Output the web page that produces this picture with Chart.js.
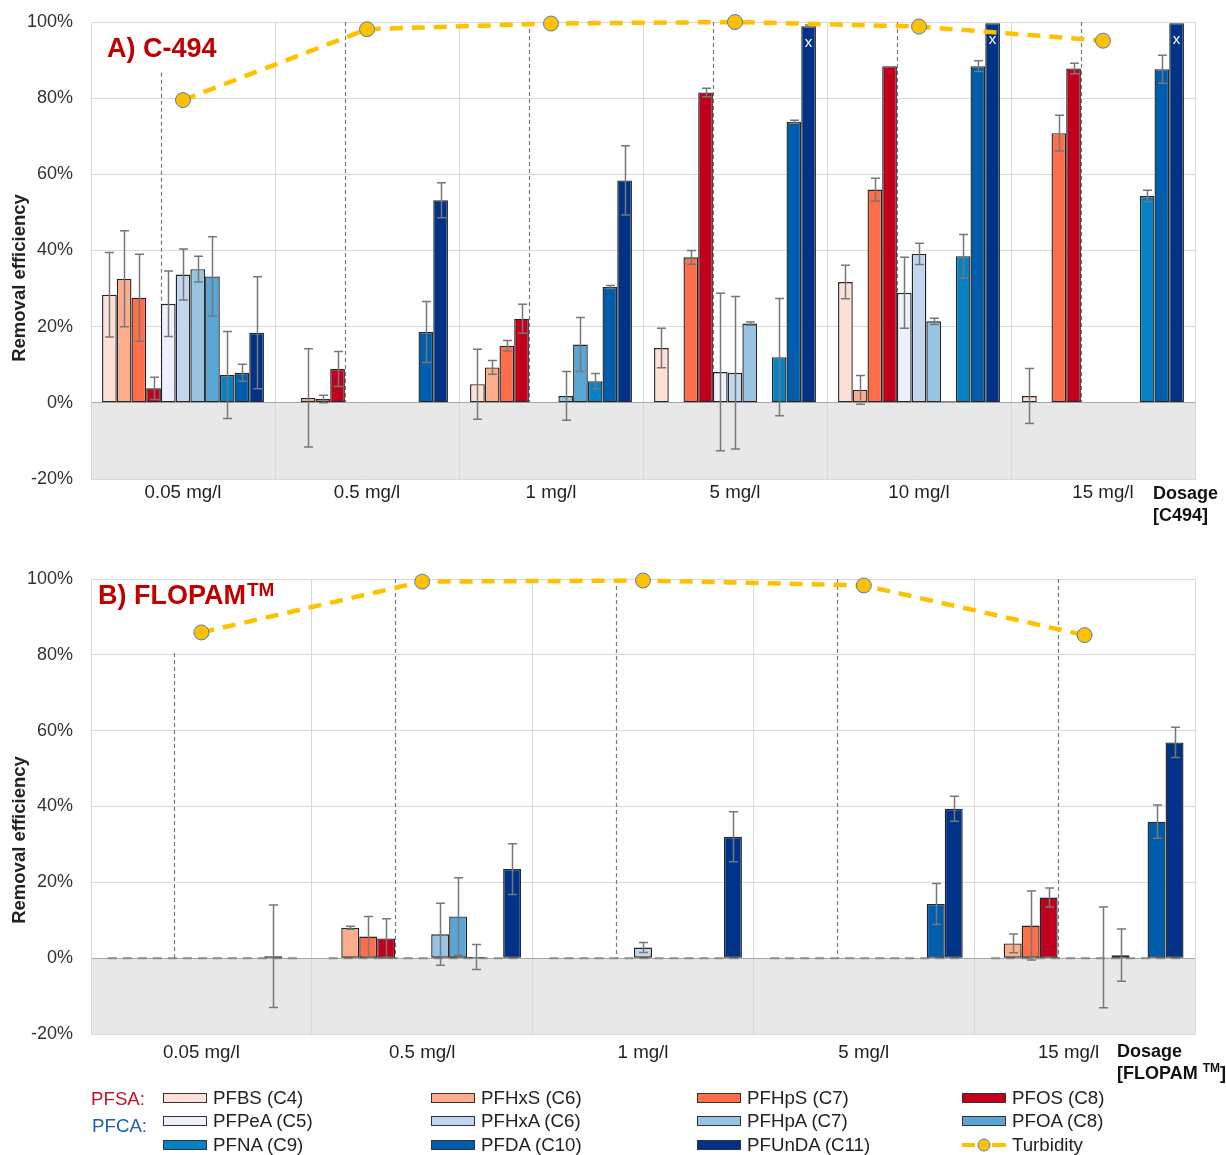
<!DOCTYPE html>
<html><head><meta charset="utf-8">
<script src="https://cdn.jsdelivr.net/npm/chart.js@4.4.1/dist/chart.umd.min.js"></script>
<style>
html,body{margin:0;padding:0;background:#fff;}
body{width:1226px;height:1155px;position:relative;overflow:hidden;font-family:"Liberation Sans",Arial,sans-serif;}
#wrapA{position:absolute;left:0;top:0;width:1226px;height:530px;}
#wrapB{position:absolute;left:0;top:555px;width:1226px;height:535px;}
.lg{position:absolute;font-size:18.7px;color:#222;line-height:20px;white-space:nowrap;}
.sw{position:absolute;width:42px;height:8px;border:1.5px solid #333;}
</style></head><body>
<div id="wrapA"><canvas id="cA"></canvas></div>
<div id="wrapB"><canvas id="cB"></canvas></div>
<div id="legend"></div>
<script>
// ---------- categories ----------
const catsA = ['0.05 mg/l', '0.5 mg/l', '1 mg/l', '5 mg/l', '10 mg/l', '15 mg/l'];
const catsB = ['0.05 mg/l', '0.5 mg/l', '1 mg/l', '5 mg/l', '15 mg/l'];
const seriesNames = ['PFBS (C4)', 'PFHxS (C6)', 'PFHpS (C7)', 'PFOS (C8)', 'PFPeA (C5)', 'PFHxA (C6)', 'PFHpA (C7)', 'PFOA (C8)', 'PFNA (C9)', 'PFDA (C10)', 'PFUnDA (C11)'];
const yTicks = [-20, 0, 20, 40, 60, 80, 100];

// ---------- Panel A: C-494 (removal efficiency %, and error) ----------
const A_PFBS   = [28.4, null, 4.9, 14.4, 31.7, 1.8];
const A_PFHxS  = [32.6, 1.3, 9.3, null, 3.4, null];
const A_PFHpS  = [27.6, 1.0, 15.0, 38.2, 56.0, 70.8];
const A_PFOS   = [3.8, 8.9, 22.1, 81.5, 88.4, 87.8];
const A_PFPeA  = [26.0, null, null, 8.1, 28.9, null];
const A_PFHxA  = [33.7, null, null, 7.9, 39.1, null];
const A_PFHpA  = [35.1, null, 1.8, 20.8, 21.4, null];
const A_PFOA   = [33.2, null, 15.3, null, 0.4, null];
const A_PFNA   = [7.3, null, 5.7, 12.0, 38.5, 54.3];
const A_PFDA   = [7.9, 18.6, 30.4, 73.8, 88.4, 87.6];
const A_PFUnDA = [18.4, 53.2, 58.4, 98.9, 99.7, 99.7];

const A_PFBS_err   = [11.1, null, 9.2, 5.2, 4.4, 7.2];
const A_PFHxS_err  = [12.6, 12.9, 1.8, null, 3.8, null];
const A_PFHpS_err  = [11.4, 1.0, 1.4, 1.8, 3.0, 4.7];
const A_PFOS_err   = [2.9, 4.6, 3.8, 1.1, 0, 1.4];
const A_PFPeA_err  = [8.6, null, null, 20.7, 9.3, null];
const A_PFHxA_err  = [6.7, null, null, 20.0, 2.8, null];
const A_PFHpA_err  = [3.4, null, 6.4, 0.4, 0.8, null];
const A_PFOA_err   = [10.4, null, 7.1, null, 0, null];
const A_PFNA_err   = [11.4, null, 2.0, 15.4, 5.7, 1.5];
const A_PFDA_err   = [2.2, 8.0, 0.4, 0.4, 1.4, 3.7];
const A_PFUnDA_err = [14.7, 4.6, 9.1, 0.3, 0, 0];
const A_PFUnDA_flag = [null, null, null, 'x', 'x', 'x'];

const A_turbidity = [79.5, 98.1, 99.6, 100, 98.8, 95.1];
const A_dropTop   = [86.7, 100, 100, 100, 100, 100];

// ---------- Panel B: FLOPAM ----------
const B_PFBS   = [null, null, null, null, null];
const B_PFHxS  = [null, 8.0, null, null, 3.9];
const B_PFHpS  = [null, 5.7, null, null, 8.6];
const B_PFOS   = [null, 5.2, null, null, 16.0];
const B_PFPeA  = [null, null, null, null, null];
const B_PFHxA  = [null, null, 2.8, null, null];
const B_PFHpA  = [null, 6.3, null, null, 0.2];
const B_PFOA   = [null, 11.0, null, null, 0.8];
const B_PFNA   = [null, 0.3, null, null, null];
const B_PFDA   = [0.5, null, null, 14.3, 36.0];
const B_PFUnDA = [null, 23.5, 32.0, 39.4, 56.9];

const B_PFBS_err   = [null, null, null, null, null];
const B_PFHxS_err  = [null, 0.4, null, null, 2.5];
const B_PFHpS_err  = [null, 5.3, null, null, 9.1];
const B_PFOS_err   = [null, 5.2, null, null, 2.5];
const B_PFPeA_err  = [null, null, null, null, null];
const B_PFHxA_err  = [null, null, 1.3, null, null];
const B_PFHpA_err  = [null, 8.2, null, null, 13.3];
const B_PFOA_err   = [null, 10.2, null, null, 6.9];
const B_PFNA_err   = [null, 3.3, null, null, null];
const B_PFDA_err   = [13.5, null, null, 5.4, 4.4];
const B_PFUnDA_err = [null, 6.7, 6.6, 3.3, 4.0];

const B_turbidity = [85.9, 99.3, 99.6, 98.3, 85.2];
const B_dropTop   = [80.5, 100, 100, 100, 100];

// ---------- styles ----------
const FONT = '"Liberation Sans", Arial, sans-serif';
const seriesColors = ['#FDE1D4', '#FCAE8C', '#FF6E4A', '#C1001D', '#EDF1FD', '#C3D6EF', '#98C3E2', '#58A6D6', '#0582C3', '#005DAB', '#003388'];
const turbColor = '#FFC000', turbBorder = '#4A7EC2';

Chart.defaults.font.family = FONT;
Chart.defaults.animation = false;

const decoPlugin = {
  id: 'deco',
  beforeDraw(chart, args, o) {
    const {ctx, chartArea: a, scales: {y}} = chart;
    const y0 = y.getPixelForValue(0);
    ctx.save();
    ctx.fillStyle = '#E8E8E8';
    ctx.fillRect(a.left, y0, a.right - a.left, a.bottom - y0);
    ctx.restore();
  },
  beforeDatasetsDraw(chart, args, o) {
    const {ctx, scales: {x, y}} = chart;
    const step = x.getPixelForValue(1) - x.getPixelForValue(0);
    const bw = step * o.catPct / o.nSeries;
    const y0 = y.getPixelForValue(0);
    ctx.save();
    if (o.zeroDash) {
      ctx.strokeStyle = '#8a8a8a'; ctx.lineWidth = 2; ctx.setLineDash([9, 6]);
      chart.data.labels.forEach((l, i) => {
        const c = x.getPixelForValue(i);
        ctx.beginPath(); ctx.moveTo(c - 5.2 * bw, y0); ctx.lineTo(c + 5.5 * bw, y0); ctx.stroke();
      });
    }
    ctx.strokeStyle = '#7a7a7a'; ctx.lineWidth = 1.2; ctx.setLineDash([4, 3]);
    o.drops.forEach((v, i) => {
      const px = Math.round(x.getPixelForValue(i) - 1.5 * bw) + 0.5;
      ctx.beginPath(); ctx.moveTo(px, y.getPixelForValue(v)); ctx.lineTo(px, y0); ctx.stroke();
    });
    ctx.restore();
  },
  afterDatasetDraw(chart, args, o) {
    const ds = chart.data.datasets[args.index];
    if (!ds.errors) return;
    const {ctx, scales: {y}} = chart;
    ctx.save();
    ctx.strokeStyle = '#777'; ctx.lineWidth = 1.5;
    args.meta.data.forEach((bar, i) => {
      const v = ds.data[i], e = ds.errors[i];
      if (v == null || e == null || e <= 0) return;
      const px = Math.round(bar.x) + 0.5;
      const yt = y.getPixelForValue(v + e), yb = y.getPixelForValue(v - e);
      ctx.beginPath();
      ctx.moveTo(px, yt); ctx.lineTo(px, yb);
      ctx.moveTo(px - 4.5, yt); ctx.lineTo(px + 4.5, yt);
      ctx.moveTo(px - 4.5, yb); ctx.lineTo(px + 4.5, yb);
      ctx.stroke();
    });
    if (ds.flags) {
      ctx.fillStyle = '#fff'; ctx.font = '15px ' + FONT; ctx.textAlign = 'center'; ctx.textBaseline = 'middle';
      args.meta.data.forEach((bar, i) => { if (ds.flags[i]) ctx.fillText(ds.flags[i], bar.x, bar.y + 17); });
    }
    ctx.restore();
  },
  afterDraw(chart, args, o) {
    const {ctx, chartArea: a, scales: {x}} = chart;
    ctx.save();
    // x labels
    ctx.fillStyle = '#222'; ctx.font = '18.7px ' + FONT; ctx.textAlign = 'center'; ctx.textBaseline = 'alphabetic';
    chart.data.labels.forEach((lab, i) => ctx.fillText(lab, x.getPixelForValue(i) + (o.labelShift[i] || 0), a.bottom + o.labelDy));
    // y title
    ctx.save();
    ctx.translate(20, o.yTitleY); ctx.rotate(-Math.PI / 2);
    ctx.font = 'bold 18.5px ' + FONT; ctx.textBaseline = 'middle'; ctx.fillText('Removal efficiency', 0, 0);
    ctx.restore();
    // panel title
    ctx.textAlign = 'left'; ctx.fillStyle = '#C00000'; ctx.font = 'bold 27px ' + FONT;
    const tx = a.left + o.titleDx, ty = a.top + o.titleDy;
    ctx.fillText(o.title, tx, ty);
    if (o.titleSup) {
      const w = ctx.measureText(o.title).width;
      ctx.font = 'bold 19px ' + FONT; ctx.fillText(o.titleSup, tx + w + 1, ty - 8);
    }
    // dosage label
    ctx.fillStyle = '#111'; ctx.font = 'bold 18px ' + FONT;
    const dx = a.right + o.dosDx;
    ctx.fillText('Dosage', dx, a.bottom + o.dosDy1);
    let cx = dx;
    o.dosLine2.forEach(part => {
      ctx.font = (part.sup ? 'bold 12px ' : 'bold 18px ') + FONT;
      ctx.fillText(part.t, cx, a.bottom + o.dosDy2 - (part.sup ? 7 : 0));
      cx += ctx.measureText(part.t).width;
    });
    ctx.restore();
  }
};

function buildChart(id, labels, vals, errs, flags, turb, drops, catPct, deco) {
  const datasets = vals.map((arr, k) => ({
    type: 'bar', label: seriesNames[k], data: arr, errors: errs[k], flags: flags[k] || null,
    backgroundColor: seriesColors[k], borderColor: '#262626', borderWidth: 1.4, borderSkipped: false,
    categoryPercentage: catPct, barPercentage: 1.0, order: 1
  }));
  datasets.push({
    type: 'line', label: 'Turbidity', data: turb, borderColor: turbColor, borderWidth: 4.5,
    borderDash: [13, 9], pointRadius: 7.5, pointBackgroundColor: turbColor, pointBorderColor: turbBorder,
    pointBorderWidth: 1, tension: 0, clip: false, order: 0
  });
  return new Chart(document.getElementById(id), {
    type: 'bar',
    data: {labels, datasets},
    options: {
      responsive: true, maintainAspectRatio: false, animation: false,
      layout: {padding: {top: deco.padTop, right: 31, left: 0, bottom: 0}},
      plugins: {legend: {display: false}, tooltip: {enabled: false},
        deco: Object.assign({drops, catPct, nSeries: vals.length}, deco)},
      scales: {
        x: {
          grid: {offset: true, drawTicks: false, color: '#D9D9D9'},
          border: {color: '#D9D9D9'},
          ticks: {display: false},
          afterFit(s) { s.height = deco.xHeight; s.paddingLeft = 0; s.paddingRight = 0; }
        },
        y: {
          min: yTicks[0], max: yTicks[yTicks.length - 1],
          afterBuildTicks(s) { s.ticks = yTicks.map(v => ({value: v})); },
          ticks: {callback: v => v + '%', padding: 18, font: {size: 18}, color: '#333'},
          grid: {drawTicks: false, color: c => (c.tick && c.tick.value === 0) ? '#A6A6A6' : '#D9D9D9'},
          border: {color: '#D9D9D9'},
          afterFit(s) { s.width = 91; s.paddingTop = 0; s.paddingBottom = 0; }
        }
      }
    },
    plugins: [decoPlugin]
  });
}

buildChart('cA', catsA,
  [A_PFBS, A_PFHxS, A_PFHpS, A_PFOS, A_PFPeA, A_PFHxA, A_PFHpA, A_PFOA, A_PFNA, A_PFDA, A_PFUnDA],
  [A_PFBS_err, A_PFHxS_err, A_PFHpS_err, A_PFOS_err, A_PFPeA_err, A_PFHxA_err, A_PFHpA_err, A_PFOA_err, A_PFNA_err, A_PFDA_err, A_PFUnDA_err],
  {10: A_PFUnDA_flag}, A_turbidity, A_dropTop, 0.88,
  {padTop: 22, xHeight: 51, labelDy: 19, labelShift: [], yTitleY: 278, title: 'A) C-494', titleSup: null,
   titleDx: 16, titleDy: 35, dosDx: -42, dosDy1: 20, dosDy2: 42, dosLine2: [{t: '[C494]'}], zeroDash: false});

buildChart('cB', catsB,
  [B_PFBS, B_PFHxS, B_PFHpS, B_PFOS, B_PFPeA, B_PFHxA, B_PFHpA, B_PFOA, B_PFNA, B_PFDA, B_PFUnDA],
  [B_PFBS_err, B_PFHxS_err, B_PFHpS_err, B_PFOS_err, B_PFPeA_err, B_PFHxA_err, B_PFHpA_err, B_PFOA_err, B_PFNA_err, B_PFDA_err, B_PFUnDA_err],
  {}, B_turbidity, B_dropTop, 0.896,
  {padTop: 24, xHeight: 56, labelDy: 24, labelShift: [0, 0, 0, 0, -16], yTitleY: 285, title: 'B) FLOPAM', titleSup: 'TM',
   titleDx: 7, titleDy: 25, dosDx: -78, dosDy1: 23, dosDy2: 45,
   dosLine2: [{t: '[FLOPAM '}, {t: 'TM', sup: true}, {t: ']'}], zeroDash: true});

// ---------- legend ----------
const legend = document.getElementById('legend');
const colX = [163, 431, 697, 962];
const rowY = [1098, 1121, 1145];
function addText(txt, left, cy, color) {
  const d = document.createElement('div');
  d.className = 'lg'; d.textContent = txt; d.style.left = left + 'px'; d.style.top = (cy - 10) + 'px';
  if (color) d.style.color = color;
  legend.appendChild(d);
}
addText('PFSA:', 91, 1099, '#C8102E');
addText('PFCA:', 92, 1126, '#1F5FAF');
seriesNames.forEach((name, k) => {
  const col = k % 4, row = Math.floor(k / 4);
  const s = document.createElement('div');
  s.className = 'sw'; s.style.background = seriesColors[k];
  s.style.left = colX[col] + 'px'; s.style.top = (rowY[row] - 5.5) + 'px';
  legend.appendChild(s);
  addText(name, colX[col] + 50, rowY[row]);
});
const svgNS = 'http://www.w3.org/2000/svg';
const svg = document.createElementNS(svgNS, 'svg');
svg.setAttribute('width', '46'); svg.setAttribute('height', '16');
svg.style.position = 'absolute'; svg.style.left = colX[3] + 'px'; svg.style.top = (rowY[2] - 8) + 'px';
svg.innerHTML = '<line x1="0" y1="8" x2="13" y2="8" stroke="' + turbColor + '" stroke-width="4"/>' +
  '<line x1="30" y1="8" x2="44" y2="8" stroke="' + turbColor + '" stroke-width="4"/>' +
  '<circle cx="22" cy="8" r="6" fill="' + turbColor + '" stroke="' + turbBorder + '" stroke-width="1"/>';
legend.appendChild(svg);
addText('Turbidity', colX[3] + 50, rowY[2]);
</script>
</body></html>
